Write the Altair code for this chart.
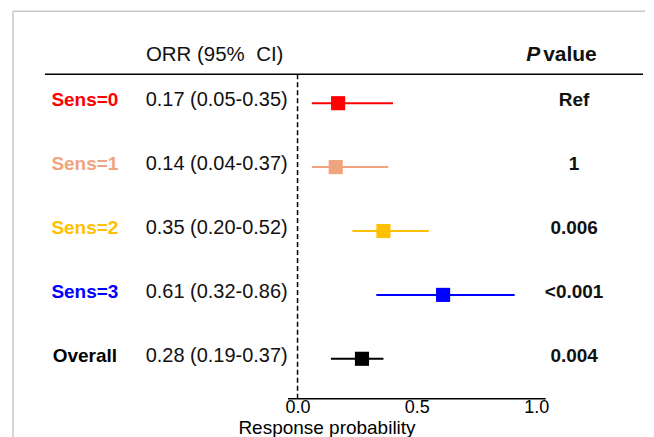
import altair as alt
import pandas as pd

groups = ["Sens=0", "Sens=1", "Sens=2", "Sens=3", "Overall"]
orr_text = ["0.17 (0.05-0.35)", "0.14 (0.04-0.37)", "0.35 (0.20-0.52)",
            "0.61 (0.32-0.86)", "0.28 (0.19-0.37)"]
p_text = ["Ref", "1", "0.006", "<0.001", "0.004"]
est = [0.17, 0.16, 0.36, 0.61, 0.27]
lo = [0.06, 0.06, 0.23, 0.33, 0.14]
hi = [0.40, 0.38, 0.55, 0.91, 0.36]
colors = ["#FF0000", "#F0A47E", "#FFC000", "#0000FF", "#000000"]
x_ticks = [0.0, 0.5, 1.0]
axis_extent = [-0.04, 1.04]
ref_line = [0.0]

FONT = "Liberation Sans"

df = pd.DataFrame({"group": groups, "orr": orr_text, "p": p_text,
                   "est": est, "lo": lo, "hi": hi})

xscale = alt.Scale(domain=[-1.2134, 1.4561], nice=False, zero=False)
xaxis = alt.Axis(values=x_ticks, format=".1f", domain=False,
                 ticks=False, grid=False, labelFlush=False,
                 labelFontSize=18, labelFont=FONT, labelColor="#000",
                 labelPadding=0, title="Response probability",
                 titleFont=FONT, titleFontSize=19,
                 titleFontWeight="normal", titleColor="#000",
                 titlePadding=2)
yenc = alt.Y("group:N", sort=groups,
             scale=alt.Scale(type="point", range=[95, 351], padding=0),
             axis=None)
cenc = alt.Color("group:N", scale=alt.Scale(domain=groups, range=colors),
                 legend=None)

base = alt.Chart(df)

bars = base.mark_rule(strokeWidth=2).encode(
    x=alt.X("lo:Q", scale=xscale, axis=xaxis),
    x2="hi:Q", y=yenc, color=cenc)

squares = base.mark_square(size=200, opacity=1, filled=True).encode(
    x=alt.X("est:Q", scale=xscale, axis=xaxis), y=yenc, color=cenc)

labels = base.mark_text(font=FONT, fontSize=19, fontWeight="bold",
                        align="center", baseline="middle", dy=-3).encode(
    x=alt.value(77), y=yenc, text="group:N", color=cenc)

orr = base.mark_text(font=FONT, fontSize=20, align="center",
                     baseline="middle", dy=-3, color="#111").encode(
    x=alt.value(209), y=yenc, text="orr:N")

pv = base.mark_text(font=FONT, fontSize=19, fontWeight="bold", align="center",
                    baseline="middle", dy=-3, color="#111").encode(
    x=alt.value(567), y=yenc, text="p:N")

dash = alt.Chart(pd.DataFrame({"v": ref_line})).mark_rule(
    strokeDash=[5, 3], strokeWidth=1.5, color="#000").encode(
    x=alt.X("v:Q", scale=xscale, axis=xaxis),
    y=alt.value(66), y2=alt.value(391))

axline = alt.Chart(pd.DataFrame({"a": [axis_extent[0]], "b": [axis_extent[1]]})
                   ).mark_rule(strokeWidth=1.5, color="#000").encode(
    x=alt.X("a:Q", scale=xscale, axis=xaxis), x2="b:Q", y=alt.value(391))

hdr_line = alt.Chart(pd.DataFrame({"k": [0]})).mark_rule(
    strokeWidth=1.5, color="#000").encode(
    x=alt.value(37), x2=alt.value(636), y=alt.value(66))

frame_top = alt.Chart(pd.DataFrame({"k": [0]})).mark_rule(
    strokeWidth=1.5, color="#C8C8C8").encode(
    x=alt.value(5), x2=alt.value(638), y=alt.value(3))
frame_left = alt.Chart(pd.DataFrame({"k": [0]})).mark_rule(
    strokeWidth=1.5, color="#C8C8C8").encode(
    x=alt.value(5), y=alt.value(3), y2=alt.value(432))

hdr_orr = alt.Chart(pd.DataFrame({"t": ["ORR (95%\u00a0 CI)"]})).mark_text(
    font=FONT, fontSize=20.5, align="center", baseline="middle",
    color="#111").encode(x=alt.value(207), y=alt.value(47), text="t:N")
hdr_p = alt.Chart(pd.DataFrame({"t": ["P"]})).mark_text(
    font=FONT, fontSize=21, fontWeight="bold", fontStyle="italic",
    align="left", baseline="middle", color="#111").encode(
    x=alt.value(519), y=alt.value(47), text="t:N")
hdr_v = alt.Chart(pd.DataFrame({"t": ["value"]})).mark_text(
    font=FONT, fontSize=21, fontWeight="bold",
    align="left", baseline="middle", color="#111").encode(
    x=alt.value(536), y=alt.value(47), text="t:N")

chart = alt.layer(
    frame_top, frame_left, hdr_line, dash, axline, bars, squares,
    labels, orr, pv, hdr_orr, hdr_p, hdr_v
).properties(width=638, height=391, padding=0, background="white"
).configure_view(stroke=None)

chart.save("out.html", embed_options={"renderer": "svg", "actions": False})
